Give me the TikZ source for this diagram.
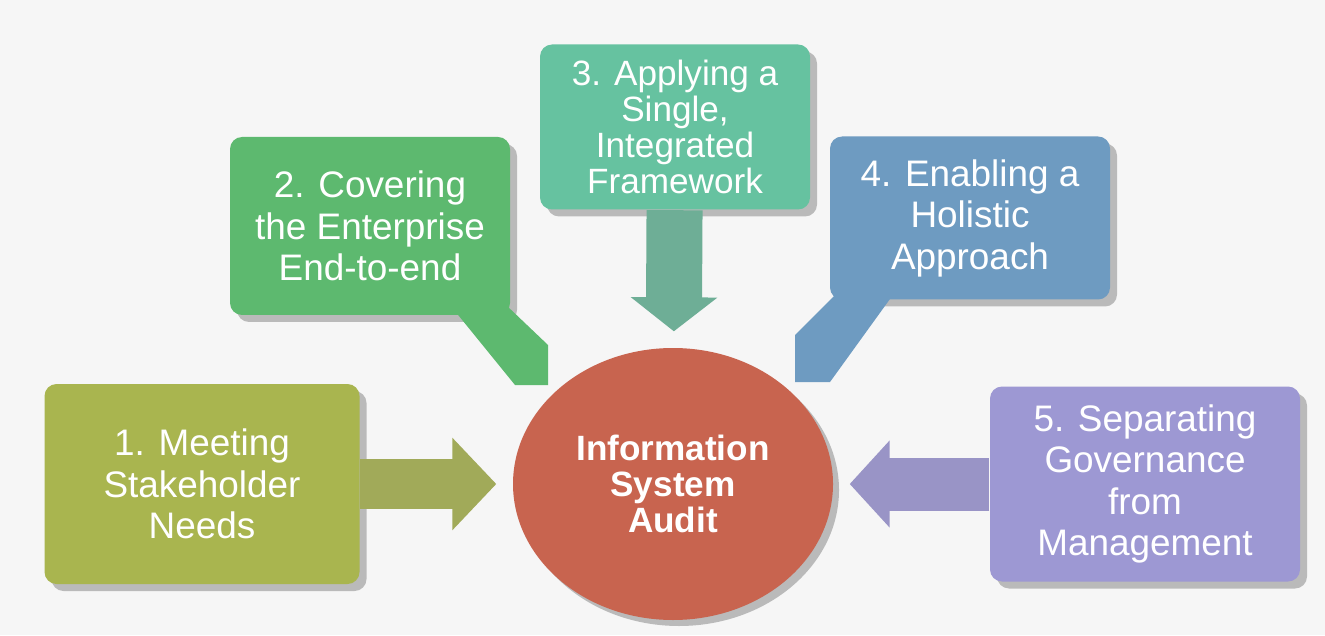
\documentclass[tikz,border=0pt]{standalone}
\usepackage{fontspec}
\setmainfont{Liberation Sans}
\usetikzlibrary{arrows.meta,shapes.geometric,shadows}
\definecolor{meetcol}{HTML}{A9B54F}
\definecolor{covercol}{HTML}{5DB96F}
\definecolor{applycol}{HTML}{66C2A0}
\definecolor{holicol}{HTML}{6E9BC1}
\definecolor{sepcol}{HTML}{9D98D3}
\definecolor{auditcol}{HTML}{C8644F}
\definecolor{bgcol}{HTML}{F6F6F6}

\begin{document}
\begin{tikzpicture}[x=0.1mm, y=-0.1mm,
		box/.style={rounded corners=1.2mm, inner sep=0pt, align=center, text=white,
			font=\fontsize{10.5}{11.8}\selectfont,
			drop shadow={shadow xshift=0.7mm, shadow yshift=-0.7mm, opacity=0.35, fill=black!70}},
		bigarrow/.style={line width=#1, shorten >=1.6mm}]
		%%%%% START %%%%%
		
		\fill[bgcol] (0, 0) rectangle (1325, 635);
		\useasboundingbox (0, 0) rectangle (1325, 635);
		
		% centre
		\node[ellipse, fill=auditcol, minimum width=32mm, minimum height=27.2mm, inner sep=0pt, align=center, text=white,
			font=\bfseries\fontsize{10}{10.3}\selectfont,
			drop shadow={shadow xshift=0.6mm, shadow yshift=-0.6mm, opacity=0.35, fill=black!70}] (audit) at (673, 484) {Information\\System\\Audit};
		
		% principles
		\node[box, fill=meetcol, minimum width=31.5mm, minimum height=20mm] (meet) at (202, 484) {1. Meeting\\Stakeholder\\Needs};
		\node[box, fill=covercol, minimum width=28mm, minimum height=17.8mm] (cover) at (370, 226) {2. Covering\\the Enterprise\\End-to-end};
		\node[box, fill=applycol, minimum width=27mm, minimum height=16.5mm, font=\fontsize{10}{10.2}\selectfont] (apply) at (675, 127) {3. Applying a\\Single,\\Integrated\\Framework};
		\node[box, fill=holicol, minimum width=28mm, minimum height=16.3mm] (holistic) at (970, 218) {4. Enabling a\\Holistic\\Approach};
		\node[box, fill=sepcol, minimum width=31mm, minimum height=19.5mm] (separate) at (1145, 484) {5. Separating\\Governance\\from\\Management};
		
		% callout tails
		\fill[covercol] (450, 305) -- (506, 305) -- (548, 345) -- (548, 385) -- (515, 385) -- cycle;
		\fill[holicol] (895, 292) -- (838, 292) -- (795, 335) -- (795, 382) -- (830, 382) -- cycle;
		
		% arrows
		\draw[bigarrow=5mm, color=meetcol!80!gray, -{Triangle[length=4.4mm, width=9mm]}] (meet) -- (audit);
		\draw[bigarrow=5.6mm, color=applycol!70!gray, -{Triangle[length=3.4mm, width=8.5mm]}] (apply) -- (audit);
		\draw[bigarrow=5.3mm, color=sepcol!85!gray, -{Triangle[length=4mm, width=8.5mm]}] (separate) -- (audit);
		
		%%%%% END %%%%%
	\end{tikzpicture}
\end{document}
